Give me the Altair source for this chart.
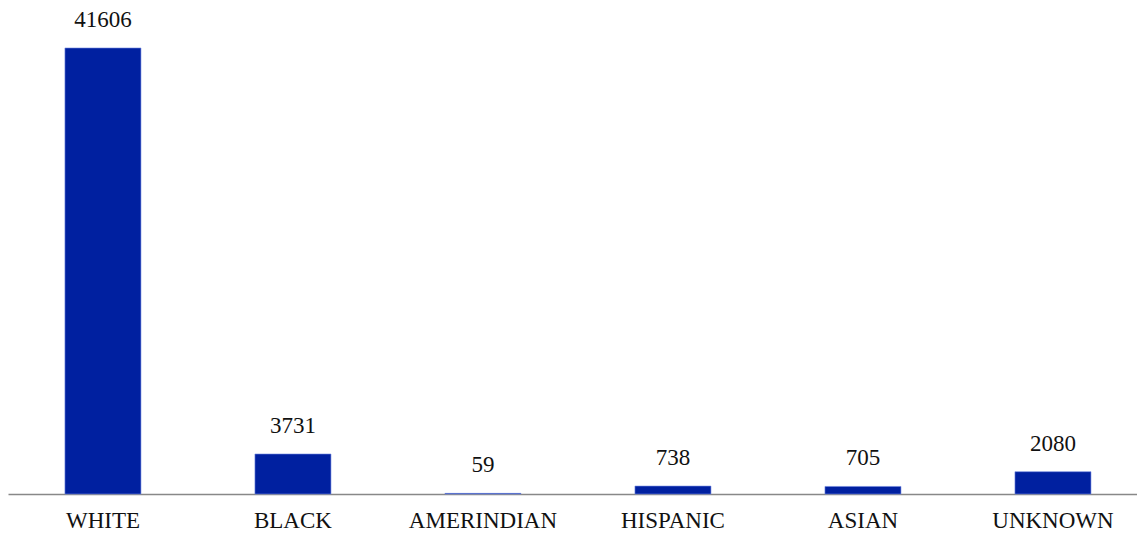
import altair as alt
import pandas as pd

categories = ["WHITE", "BLACK", "AMERINDIAN", "HISPANIC", "ASIAN", "UNKNOWN"]
counts = [41606, 3731, 59, 738, 705, 2080]

df = pd.DataFrame({"cat": categories, "count": counts})

FONT = "Liberation Serif"

base = alt.Chart(df).encode(
    x=alt.X("cat:N", sort=categories, title=None,
            scale=alt.Scale(paddingInner=0.6, paddingOuter=0.271, align=0.553),
            axis=alt.Axis(labelAngle=0, ticks=False, domainColor="#888888",
                          domainWidth=1.5, labelFont=FONT, labelFontSize=23,
                          labelColor="#111111", labelPadding=15, grid=False)),
    y=alt.Y("count:Q", title=None,
            scale=alt.Scale(domain=[0, 45337], nice=False),
            axis=None),
)

bars = base.mark_bar(color="#0020A0", stroke="#6f86e0", strokeWidth=0.6)
labels = base.mark_text(dy=-28, font=FONT, fontSize=23, color="#111111").encode(
    text="count:Q")

chart = (bars + labels).properties(
    width=1129, height=524, padding=0,
    autosize=alt.AutoSizeParams(type="fit", contains="padding"),
).configure_view(stroke=None)

chart.save("out.html", embed_options={"renderer": "svg", "actions": False})
